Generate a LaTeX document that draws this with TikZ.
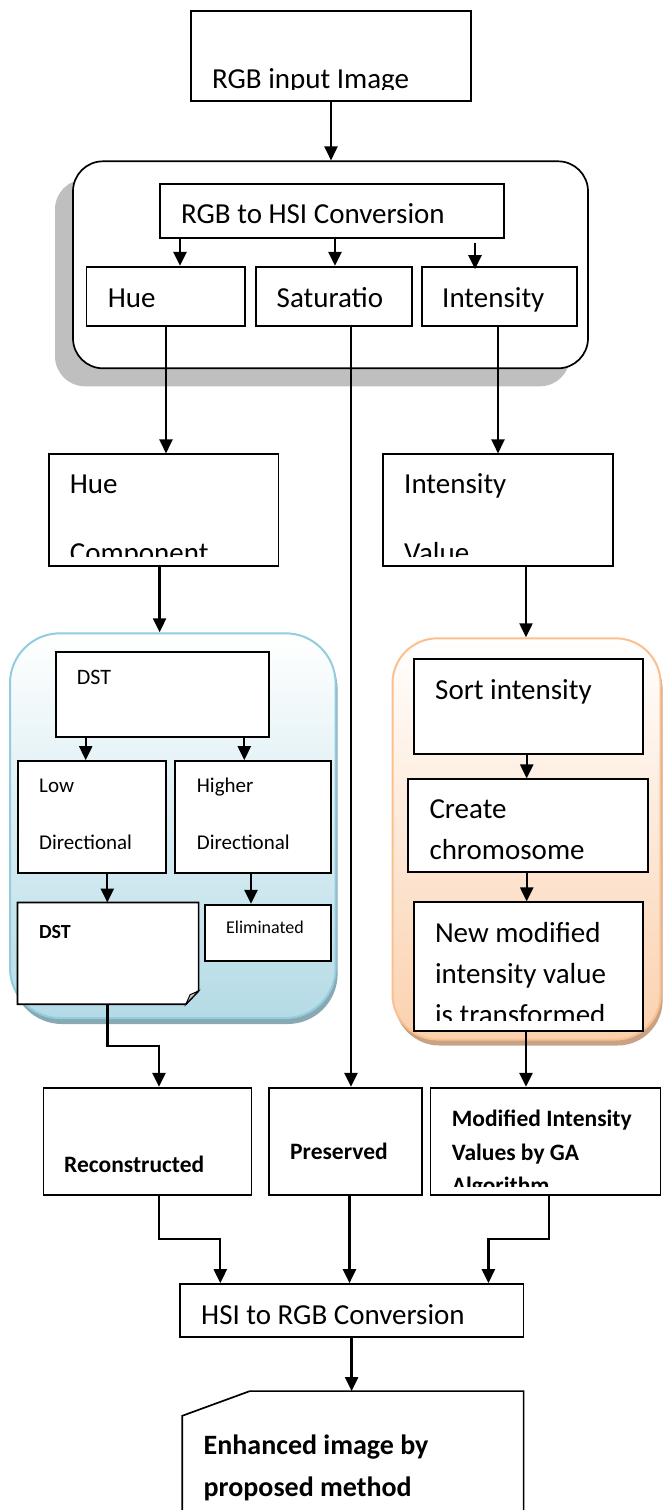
\documentclass[tikz,border=0pt]{standalone}
\usepackage{fontspec}
\setmainfont{Carlito}
\usetikzlibrary{arrows.meta,calc,shadows}

\definecolor{frameshadow}{HTML}{BFBFBF}
\definecolor{blueedge}{HTML}{93CDDD}
\definecolor{bluefill}{HTML}{B4DBE6}
\definecolor{blueshadow}{HTML}{88A9B3}
\definecolor{orangeedge}{HTML}{FAC08F}
\definecolor{orangefill}{HTML}{FBD1AE}
\definecolor{orangeshadow}{HTML}{C9A286}
\definecolor{foldgray}{HTML}{C8C8C8}

\tikzset{
  box/.style={draw, line width=1.7pt, fill=white, rectangle, inner sep=0pt},
  frame/.style={draw, line width=1.7pt, fill=white, rounded corners=30pt, inner sep=0pt,
    drop shadow={shadow xshift=-18pt, shadow yshift=-18pt, fill=frameshadow, opacity=1}},
  bluegroup/.style={draw=blueedge, line width=2pt, rounded corners=50pt, inner sep=0pt,
    top color=white, bottom color=bluefill,
    drop shadow={shadow xshift=2pt, shadow yshift=-6pt, fill=blueshadow, opacity=1}},
  orangegroup/.style={draw=orangeedge, line width=2pt, rounded corners=45pt, inner sep=0pt,
    top color=white, bottom color=orangefill,
    drop shadow={shadow xshift=2pt, shadow yshift=-6pt, fill=orangeshadow, opacity=1}},
  arr/.style={line width=2.3pt, -{Triangle[width=13pt,length=14pt]}},
  txt/.style={anchor=base west, inner sep=0pt, font=\fontsize{29}{35}\selectfont},
  txtsmall/.style={anchor=base west, inner sep=0pt, font=\fontsize{21}{25}\selectfont},
  txtbold/.style={anchor=base west, inner sep=0pt, font=\fontsize{23.5}{28}\selectfont\bfseries},
}

\begin{document}
\begin{tikzpicture}[x=1pt,y=-1pt]
\useasboundingbox (0,0) rectangle (662,1510);

% ---- input image ----
\node[box, minimum width=280pt, minimum height=89.7pt] (rgbin) at (331,55.85) {};
\begin{scope}
  \clip (191,11) rectangle (471,89.5);
  \node[txt] (rgbintxt) at (212,88.5) {RGB input Image};
\end{scope}

% ---- colour space conversion block ----
\node[frame, minimum width=515pt, minimum height=207pt] (hsiframe) at (330.5,264.8) {};
\node[box, minimum width=344pt, minimum height=53.4pt] (rgb2hsi) at (332,211) {};
\node[txt] (rgb2hsitxt) at (181,223.5) {RGB to HSI Conversion};
\node[box, minimum width=158.5pt, minimum height=59.3pt] (hue) at (165.75,296.35) {};
\node[box, minimum width=156pt, minimum height=59.3pt] (sat) at (334,296.35) {};
\node[box, minimum width=155pt, minimum height=59.3pt] (inten) at (499.5,296.35) {};
\node[txt] (huetxt) at (107.6,307) {Hue};
\node[txt] (sattxt) at (276.5,307) {Saturatio};
\node[txt] (intentxt) at (442,307) {Intensity};

% ---- component boxes ----
\node[box, minimum width=229.6pt, minimum height=112pt] (huecomp) at (163.8,510.3) {};
\node[box, minimum width=230pt, minimum height=112pt] (intval) at (498,510.3) {};
\begin{scope}
  \clip (49,454.3) rectangle (278.6,556);
  \node[txt] (huecomptxta) at (69.6,493.5) {Hue};
  \node[txt] (huecomptxtb) at (69.6,562.7) {Component};
\end{scope}
\begin{scope}
  \clip (383,454.3) rectangle (613,556);
  \node[txt] (intvaltxta) at (404,493.5) {Intensity};
  \node[txt] (intvaltxtb) at (404,562.7) {Value};
\end{scope}

% ---- DST group (hue branch) ----
\node[bluegroup, minimum width=325.6pt, minimum height=384.7pt] (bluegrp) at (172.8,825.65) {};
\node[box, minimum width=213.6pt, minimum height=85pt] (dst) at (162.5,694.8) {};
\node[anchor=base west, inner sep=0pt, font=\fontsize{22}{26}\selectfont] (dsttxt) at (76.7,684.3) {DST};
\node[box, minimum width=148.3pt, minimum height=111.7pt] (low) at (91.85,816.85) {};
\node[box, minimum width=155.7pt, minimum height=111.7pt] (high) at (253.15,816.85) {};
\node[txtsmall] (lowtxta) at (39,792.3) {Low};
\node[txtsmall] (lowtxtb) at (39,849) {Directional};
\node[txtsmall] (hightxta) at (196.7,792.3) {Higher};
\node[txtsmall] (hightxtb) at (196.7,849) {Directional};
\node[inner sep=0pt, minimum width=180.7pt, minimum height=101.3pt] (dstdoc) at (108.05,953.35) {};
\draw[line width=1.7pt, fill=white]
  (dstdoc.north west) -- (dstdoc.north east) -- ($(dstdoc.south east)+(0,-13.3)$)
  -- ($(dstdoc.south east)+(-12.7,0)$) -- (dstdoc.south west) -- cycle;
\draw[line width=1pt, fill=foldgray]
  ($(dstdoc.south east)+(0,-13.3)$) -- ($(dstdoc.south east)+(-12.7,0)$)
  -- ($(dstdoc.south east)+(-8.5,-9.5)$) -- cycle;
\node[anchor=base west, inner sep=0pt, font=\fontsize{20}{24}\selectfont\bfseries] (dstdoctxt) at (38.8,938.3) {DST};
\node[box, minimum width=126pt, minimum height=56pt] (elim) at (268,932.7) {};
\node[anchor=base west, inner sep=0pt, font=\fontsize{18}{22}\selectfont] (elimtxt) at (226,933.3) {Eliminated};

% ---- GA group (intensity branch) ----
\node[orangegroup, minimum width=268.1pt, minimum height=401.2pt] (orangegrp) at (526.55,838.9) {};
\node[box, minimum width=228.4pt, minimum height=95pt] (sort) at (528.5,706.8) {};
\node[txt] (sorttxt) at (435,699.7) {Sort intensity};
\node[box, minimum width=240pt, minimum height=93pt] (chrom) at (528.3,825.8) {};
\node[txt] (chromtxta) at (429.3,818) {Create};
\node[txt] (chromtxtb) at (429.3,859) {chromosome};
\node[box, minimum width=228.4pt, minimum height=128.4pt] (newmod) at (528.5,966.5) {};
\begin{scope}
  \clip (414.3,902.3) rectangle (642.7,1020);
  \node[txt] (newmodtxta) at (434.8,942) {New modified};
  \node[txt] (newmodtxtb) at (434.8,983) {intensity value};
  \node[txt] (newmodtxtc) at (434.8,1024) {is transformed};
\end{scope}

% ---- results ----
\node[box, minimum width=208.1pt, minimum height=107.3pt] (recon) at (147.55,1141.35) {};
\node[box, minimum width=152.4pt, minimum height=107.3pt] (pres) at (345.5,1141.35) {};
\node[box, minimum width=230pt, minimum height=107.3pt] (modint) at (545.6,1141.35) {};
\node[txtbold] (recontxt) at (64,1172.7) {Reconstructed};
\node[txtbold] (prestxt) at (290,1159.3) {Preserved};
\begin{scope}
  \clip (430.6,1087.7) rectangle (660.6,1186);
  \node[txtbold] (modinttxta) at (451.7,1126.7) {Modified Intensity};
  \node[txtbold] (modinttxtb) at (451.7,1160) {Values by GA};
  \node[txtbold] (modinttxtc) at (451.7,1193.3) {Algorithm};
\end{scope}

\node[box, minimum width=343.6pt, minimum height=52.7pt] (hsi2rgb) at (351.6,1310.35) {};
\node[txt] (hsi2rgbtxt) at (201,1324.7) {HSI to RGB Conversion};

% ---- output card ----
\node[inner sep=0pt, minimum width=341pt, minimum height=128.7pt] (enh) at (352.9,1455.65) {};
\draw[line width=1.7pt]
  (enh.south west) -- ($(enh.north west)+(0,24.7)$) -- ($(enh.north west)+(67.6,0)$)
  -- (enh.north east) -- (enh.south east);
\node[anchor=base west, inner sep=0pt, font=\fontsize{28}{34}\selectfont\bfseries] (enhtxta) at (203.5,1454) {Enhanced image by};
\node[anchor=base west, inner sep=0pt, font=\fontsize{28}{34}\selectfont\bfseries] (enhtxtb) at (203.5,1496.7) {proposed method};

% ---- connectors ----
\draw[arr] (rgbin.south) -- (331,0 |- hsiframe.north);
\draw[arr] (180,0 |- rgb2hsi.south) -- (180,0 |- hue.north);
\draw[arr] (335,0 |- rgb2hsi.south) -- (335,0 |- sat.north);
\draw[arr, shorten <=4pt, shorten >=-3.3pt] (475,0 |- rgb2hsi.south) -- (475,0 |- inten.north);
\draw[arr] (166,0 |- hue.south) -- (166,0 |- huecomp.north);
\draw[arr] (498,0 |- inten.south) -- (498,0 |- intval.north);
\draw[arr] (351,0 |- sat.south) -- (351,0 |- pres.north);
\draw[arr] (159.6,0 |- huecomp.south) -- (159.6,0 |- bluegrp.north);
\draw[arr] (526,0 |- intval.south) -- (526,0 |- orangegrp.north);
\draw[arr] (85.7,0 |- dst.south) -- (85.7,0 |- low.north);
\draw[arr] (244.3,0 |- dst.south) -- (244.3,0 |- high.north);
\draw[arr] (107.3,0 |- low.south) -- (107.3,0 |- dstdoc.north);
\draw[arr] (251,0 |- high.south) -- (251,0 |- elim.north);
\draw[arr] (526.7,0 |- sort.south) -- (526.7,0 |- chrom.north);
\draw[arr] (526.7,0 |- chrom.south) -- (526.7,0 |- newmod.north);
\draw[arr] (107.6,0 |- dstdoc.south) |- (159,1045.7) -- (159,0 |- recon.north);
\draw[arr] (526,0 |- newmod.south) -- (526,0 |- modint.north);
\draw[arr] (159,0 |- recon.south) |- (220.3,1239.3) -- (220.3,0 |- hsi2rgb.north);
\draw[arr] (349.5,0 |- pres.south) -- (349.5,0 |- hsi2rgb.north);
\draw[arr] (548.8,0 |- modint.south) |- (488.4,1239.3) -- (488.4,0 |- hsi2rgb.north);
\draw[arr] (351.6,0 |- hsi2rgb.south) -- (351.6,0 |- enh.north);
\end{tikzpicture}
\end{document}
